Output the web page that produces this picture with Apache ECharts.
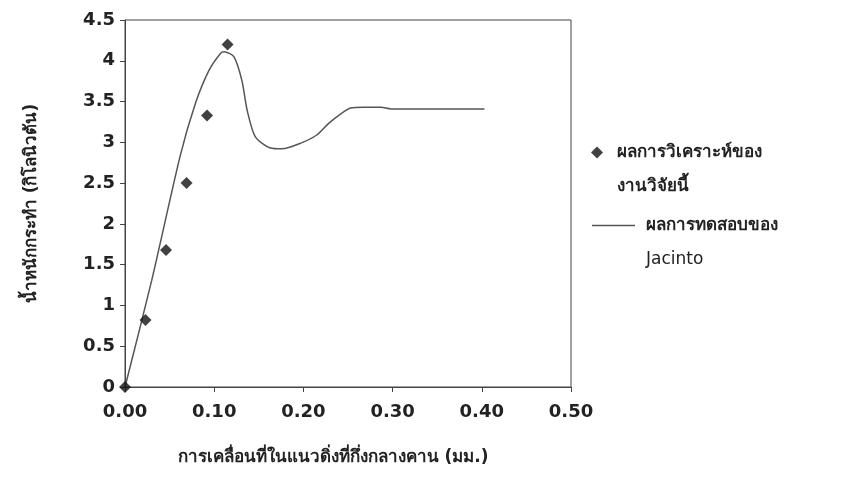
<!DOCTYPE html>
<html>
<head>
<meta charset="utf-8">
<script src="https://cdn.jsdelivr.net/npm/echarts@6/dist/echarts.min.js"></script>
<style>
  html, body { margin: 0; padding: 0; background: #fff; }
  #chart { width: 842px; height: 501px; }
</style>
</head>
<body>
<div id="chart"></div>
<script>
// ผลการวิเคราะห์ (จุด)
var analysisX = [0, 0.023, 0.046, 0.069, 0.092, 0.115];
var analysisY = [0, 0.82, 1.68, 2.50, 3.33, 4.20];

// ผลการทดสอบของ Jacinto (เส้น)
var testX = [0, 0.030, 0.062, 0.079, 0.094, 0.107, 0.111, 0.122, 0.131, 0.137, 0.146,
             0.163, 0.176, 0.197, 0.215, 0.228, 0.242, 0.253, 0.268, 0.287, 0.298, 0.403];
var testY = [0, 1.31, 2.84, 3.48, 3.88, 4.09, 4.11, 4.05, 3.76, 3.39, 3.07,
             2.93, 2.92, 2.99, 3.09, 3.23, 3.35, 3.42, 3.43, 3.43, 3.41, 3.41];

var seriesNames = ['ผลการวิเคราะห์ของ\nงานวิจัยนี้', 'ผลการทดสอบของ\nJacinto'];
var xTitle = 'การเคลื่อนที่ในแนวดิ่งที่กึ่งกลางคาน (มม.)';
var yTitle = 'น้ำหนักกระทำ (กิโลนิวตัน)';

var font = 'DejaVu Sans';
var ink = '#222';

function zip(xs, ys) {
    return xs.map(function (x, i) { return [x, ys[i]]; });
}

var chart = echarts.init(document.getElementById('chart'));

// blank line in front so the icon sits next to the first text line
var legendText = function (name) {
    var lines = name.split('\n');
    return '{t| }\n{t|' + lines[0] + '}\n{' + (/^[A-Za-z]/.test(lines[1]) ? 'n' : 't') + '|' + lines[1] + '}';
};
var legendStyle = {
    color: ink,
    fontFamily: font,
    fontSize: 17,
    rich: {
        t: { color: ink, fontFamily: font, fontWeight: 'bold', fontSize: 17, lineHeight: 34 },
        n: { color: ink, fontFamily: font, fontWeight: 'normal', fontSize: 17, lineHeight: 34 }
    }
};

chart.setOption({
    animation: false,
    backgroundColor: '#fff',
    grid: {
        left: 125,
        right: 271,
        top: 20,
        bottom: 114,
        show: true,
        borderColor: '#444',
        borderWidth: 1
    },
    legend: [{
        orient: 'vertical',
        left: 586,
        top: 105,
        data: [seriesNames[0]],
        icon: 'diamond',
        itemWidth: 12,
        itemHeight: 12,
        formatter: legendText,
        textStyle: Object.assign({ padding: [0, 0, 0, 9] }, legendStyle)
    }, {
        orient: 'vertical',
        left: 587,
        top: 178,
        data: [seriesNames[1]],
        icon: 'rect',
        itemWidth: 43,
        itemHeight: 1.5,
        itemStyle: { color: '#555', borderWidth: 0 },
        formatter: legendText,
        textStyle: Object.assign({ padding: [0, 0, 0, 6] }, legendStyle)
    }],
    xAxis: {
        type: 'value',
        min: 0,
        max: 0.5,
        interval: 0.1,
        name: xTitle,
        nameLocation: 'middle',
        nameGap: 62,
        nameTextStyle: {
            color: ink,
            fontFamily: font,
            fontWeight: 'bold',
            fontSize: 17,
            padding: [0, 30, 0, 0]
        },
        axisLine: { lineStyle: { color: '#444', width: 1 } },
        axisTick: { show: true, length: 5, lineStyle: { color: '#444' } },
        splitLine: { show: false },
        axisLabel: {
            margin: 16,
            color: ink,
            fontFamily: font,
            fontWeight: 'bold',
            fontSize: 18,
            formatter: function (v) { return v.toFixed(2); }
        }
    },
    yAxis: {
        type: 'value',
        min: 0,
        max: 4.5,
        interval: 0.5,
        name: yTitle,
        nameLocation: 'middle',
        nameGap: 85,
        nameTextStyle: {
            color: ink,
            fontFamily: font,
            fontWeight: 'bold',
            fontSize: 17
        },
        axisLine: { show: true, lineStyle: { color: '#444', width: 1 } },
        axisTick: { show: true, length: 5, lineStyle: { color: '#444' } },
        splitLine: { show: false },
        axisLabel: {
            margin: 10,
            color: ink,
            fontFamily: font,
            fontWeight: 'bold',
            fontSize: 18
        }
    },
    series: [{
        name: seriesNames[1],
        type: 'line',
        data: zip(testX, testY),
        smooth: 0.25,
        symbol: 'none',
        lineStyle: { color: '#555', width: 1.5 },
        itemStyle: { color: '#555' },
        z: 2
    }, {
        name: seriesNames[0],
        type: 'scatter',
        data: zip(analysisX, analysisY),
        symbol: 'diamond',
        symbolSize: 12,
        itemStyle: { color: '#111' },
        z: 3
    }]
});
</script>
</body>
</html>
